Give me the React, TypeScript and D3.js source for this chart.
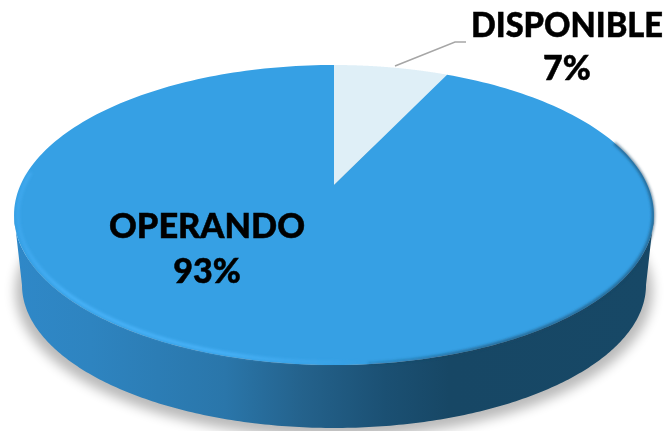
import React from "react";
import * as d3 from "d3";

const categories = ["DISPONIBLE", "OPERANDO"];
const values = [7, 93];
const sliceColors = ["#dfeff7", "#36a0e4"];
const W = 667, H = 431;

type Disc = { a: number; b: number; d: number };
const persp = -0.2, cx = 334;
const topDisc: Disc = { a: 107, b: 185, d: 313.5 };
const baseDisc: Disc = { a: 86, b: 256.4, d: 305.7 };
const project = (disc: Disc, ang: number, r = 1, dy = 0): [number, number] => {
  const u = r * Math.sin(ang), v = -r * Math.cos(ang);
  const w = 1 + persp * v;
  return [cx + (disc.d * u) / w, (disc.a * v + disc.b) / w + dy];
};

const pie = d3.pie<number>().sort(null)(values);
const line = d3.line<[number, number]>().curve(d3.curveLinear);
const rad = (deg: number) => (deg * Math.PI) / 180;
const sweep = (from: number, to: number, n = 240) =>
  d3.range(0, n + 1).map((i) => rad(from + ((to - from) * i) / n));

const slicePath = (s: d3.PieArcDatum<number>) => {
  const angs = d3.range(0, 241).map((i) => s.startAngle + ((s.endAngle - s.startAngle) * i) / 240);
  return line([project(topDisc, 0, 0), ...angs.map((a) => project(topDisc, a))]) + "Z";
};

const front = sweep(101.5, 258.5);
const sidePath = line([
  ...front.map((a) => project(topDisc, a)),
  ...front.slice().reverse().map((a) => project(baseDisc, a)),
]) + "Z";
const shadowPath = line(sweep(0, 360, 720).map((a) => project(baseDisc, a, 1.02, 5))) + "Z";
const brightRim = line(sweep(175, 275).map((a) => project(topDisc, a, 0.988))) ?? "";
const darkRim = line(sweep(72, 175).map((a) => project(topDisc, a, 0.998))) ?? "";

const sideStops: [number, string][] = [
  [0, "#2f88c8"], [0.12, "#2e84c0"], [0.33, "#2a76aa"], [0.45, "#24628c"],
  [0.58, "#1b5073"], [0.68, "#174765"], [1, "#174866"],
];

const font = "'Lato','Open Sans',sans-serif";

export default function App() {
  return (
    <svg width={W} height={H} style={{ position: "absolute", left: 0, top: 0, background: "#fff" }}>
      <defs>
        <linearGradient id="side" gradientUnits="userSpaceOnUse" x1="14" x2="654" y1="0" y2="0">
          {sideStops.map(([o, c]) => <stop key={o} offset={o} stopColor={c} />)}
        </linearGradient>
        <linearGradient id="bright" gradientUnits="userSpaceOnUse" x1="14" x2="360" y1="0" y2="0">
          <stop offset="0" stopColor="#45aef6" stopOpacity={0.5} />
          <stop offset="0.15" stopColor="#4ab4fa" />
          <stop offset="0.6" stopColor="#4ab4fa" />
          <stop offset="1" stopColor="#4ab4fa" stopOpacity={0} />
        </linearGradient>
        <linearGradient id="dark" gradientUnits="userSpaceOnUse" x1="300" x2="480" y1="0" y2="0">
          <stop offset="0" stopColor="#174664" stopOpacity={0} />
          <stop offset="1" stopColor="#174664" stopOpacity={0.8} />
        </linearGradient>
        <filter id="sh" x="-10%" y="-10%" width="120%" height="125%"><feGaussianBlur stdDeviation="6" /></filter>
        <filter id="b2" x="-5%" y="-5%" width="110%" height="110%"><feGaussianBlur stdDeviation="1.6" /></filter>
        <filter id="b05" x="-5%" y="-5%" width="110%" height="110%"><feGaussianBlur stdDeviation="0.4" /></filter>
      </defs>
      <path d={shadowPath} fill="#000" opacity={0.27} filter="url(#sh)" />
      <path d={sidePath} fill="url(#side)" />
      {pie.map((s, i) => (
        <path key={categories[i]} d={slicePath(s)} fill={sliceColors[i]} />
      ))}
      <path d={darkRim} fill="none" stroke="url(#dark)" strokeWidth={2.5} filter="url(#b2)" />
      <path d={brightRim} fill="none" stroke="url(#bright)" strokeWidth={3} filter="url(#b2)" />
      <polyline points="395,66 455,42 466,42" fill="none" stroke="#a6a6a6" strokeWidth={1.5} />
      <g fontFamily={font} fontWeight={900} fontSize={34} textAnchor="middle" fill="#000" stroke="#000" strokeWidth={0.5} filter="url(#b05)">
        <text transform="translate(567,37) scale(0.96,1)">{categories[0]}</text>
        <text x={567} y={80}>{values[0]}%</text>
        <text transform="translate(207,238) scale(1.01,1)">{categories[1]}</text>
        <text x={207} y={283}>{values[1]}%</text>
      </g>
    </svg>
  );
}
